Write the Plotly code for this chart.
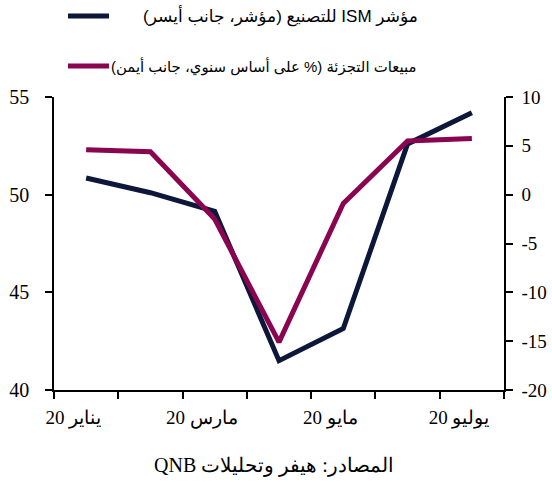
import plotly.graph_objects as go

months = ["يناير 20", "فبراير 20", "مارس 20", "أبريل 20", "مايو 20", "يونيو 20", "يوليو 20"]
ism = [50.85, 50.1, 49.15, 41.5, 43.15, 52.6, 54.2]
retail = [4.6, 4.4, -2.5, -15.1, -0.9, 5.5, 5.75]
label_months = ["يناير 20", "مارس 20", "مايو 20", "يوليو 20"]
left_ticks = [40, 45, 50, 55]
right_ticks = [-20, -15, -10, -5, 0, 5, 10]
legend_texts = ["مؤشر ISM للتصنيع (مؤشر، جانب أيسر)",
                "مبيعات التجزئة (% على أساس سنوي، جانب أيمن)"]
source_text = "المصادر: هيفر وتحليلات QNB"

NAVY = "#0c1739"
MAROON = "#8a0450"
SERIF = "Liberation Serif, Times New Roman, serif"
SANS = "Liberation Sans, Arial, DejaVu Sans, sans-serif"


def rtl(s):
    return "\u202B" + s + "\u202C"


x = list(range(len(months)))
label_idx = [months.index(m) for m in label_months]
label_pos = [i - 0.2 for i in label_idx]
boundaries = [i - 0.5 for i in range(len(months) + 1)]

L, R, T, B = 54, 48, 97, 92
PW, PH = 552 - L - R, 482 - T - B

fig = go.Figure()
fig.add_trace(go.Scatter(x=x, y=ism, mode="lines", line=dict(color=NAVY, width=5),
                         yaxis="y", showlegend=False, hoverinfo="skip"))
fig.add_trace(go.Scatter(x=x, y=retail, mode="lines", line=dict(color=MAROON, width=5),
                         yaxis="y2", showlegend=False, hoverinfo="skip"))

fig.update_layout(
    width=552, height=482,
    margin=dict(l=L, r=R, t=T, b=B, autoexpand=False),
    paper_bgcolor="white", plot_bgcolor="white",
    font=dict(family=SERIF, size=19, color="black"),
    xaxis=dict(range=[-0.5, len(months) - 0.5], showgrid=False, zeroline=False,
               showline=True, linecolor="black", linewidth=1.5, automargin=False,
               tickmode="array", tickvals=label_pos,
               ticktext=[rtl(m) for m in label_months],
               ticks="", ticklabelstandoff=9, tickfont=dict(family=SERIF, size=19),
               minor=dict(tickmode="array", tickvals=boundaries, ticks="outside",
                          ticklen=7, tickcolor="black", tickwidth=1.5, showgrid=False)),
    yaxis=dict(range=[40, 55], tickmode="array", tickvals=left_ticks,
               ticktext=[str(v) for v in left_ticks], showgrid=False, automargin=False,
               zeroline=False, showline=True, linecolor="black", linewidth=1.5,
               ticks="outside", ticklen=7, tickwidth=1.5, tickcolor="black",
               ticklabelstandoff=12, tickfont=dict(family=SERIF, size=20)),
    yaxis2=dict(range=[-20, 10], tickmode="array", tickvals=right_ticks,
                ticktext=[str(v) for v in right_ticks], overlaying="y", automargin=False,
                side="right", showgrid=False, zeroline=False, showline=True,
                linecolor="black", linewidth=1.5, ticks="outside", ticklen=7,
                tickwidth=1.5, tickcolor="black", ticklabelstandoff=5,
                tickfont=dict(family=SERIF, size=19)),
)

# legend drawn at top (RTL layout: text to right of sample line)
legend_rows = [(legend_texts[0], NAVY, 16, 420, 17), (legend_texts[1], MAROON, 66, 418, 14.9)]
for text, color, ypx, right_px, fs in legend_rows:
    yp = 1 + (T - ypx) / PH
    fig.add_shape(type="line", xref="paper", yref="paper",
                  x0=(68 - L) / PW, x1=(109 - L) / PW, y0=yp, y1=yp,
                  line=dict(color=color, width=5))
    fig.add_annotation(text=rtl(text), xref="paper", yref="paper",
                       x=(right_px - L) / PW, y=yp,
                       xanchor="right", yanchor="middle", showarrow=False,
                       font=dict(family=SANS, size=fs, color="black"))

fig.add_annotation(text=rtl(source_text), xref="paper", yref="paper",
                   x=(274 - L) / PW, y=-(465 - (482 - B)) / PH, xanchor="center",
                   yanchor="middle", showarrow=False,
                   font=dict(family=SERIF, size=20, color="black"))

fig.write_html("out.html", config={"displayModeBar": False},
               post_script="document.body.style.margin='0';")
